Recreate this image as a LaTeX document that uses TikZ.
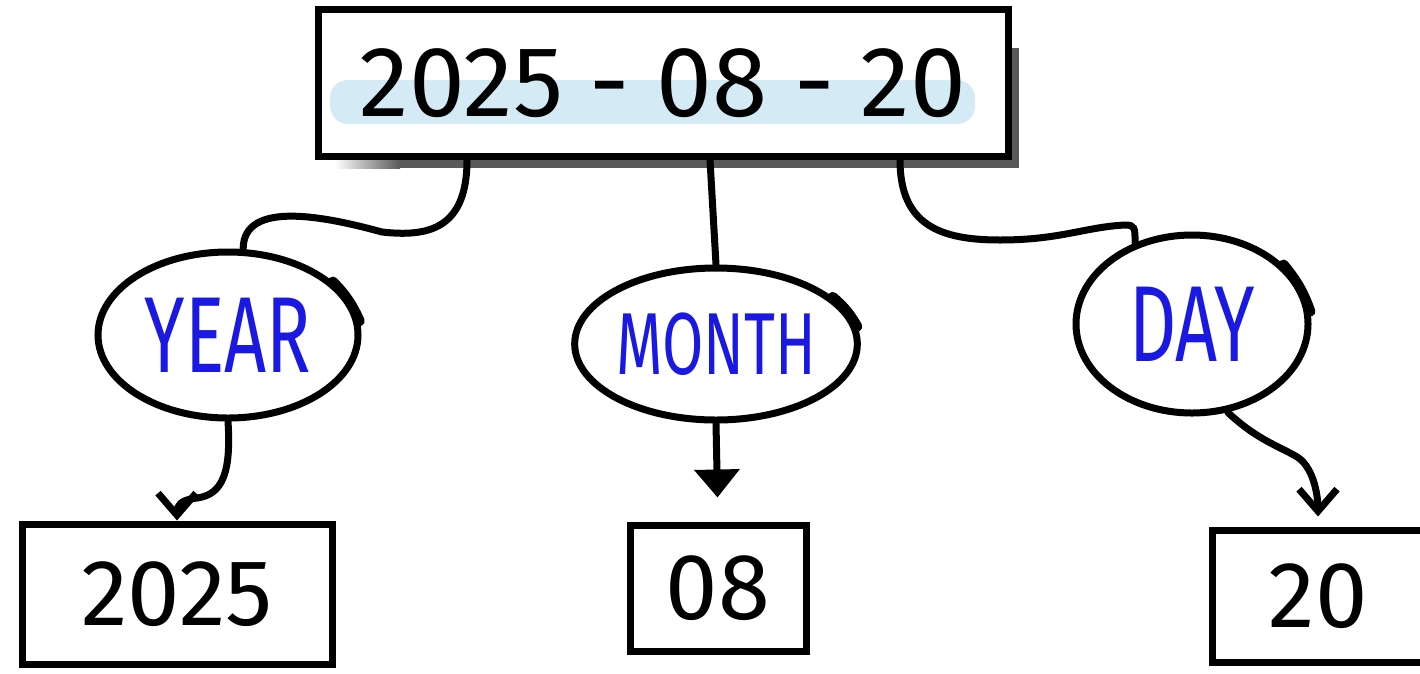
\documentclass[tikz,border=0pt]{standalone}
\usepackage{fontspec}
\setmainfont{Fira Sans}
\usetikzlibrary{arrows.meta,shapes.geometric}
\definecolor{ink}{RGB}{25,25,225}
\definecolor{marker}{RGB}{212,234,244}
\newcommand{\hand}[1]{\scalebox{0.68}[1]{#1}}
\begin{document}
\begin{tikzpicture}[x=1pt,y=-1pt,line width=7pt,line cap=round,
  box/.style={draw,rectangle,line width=7pt,inner sep=0pt},
  oval/.style={draw,ellipse,inner sep=0pt,fill=white,text=ink,font=\fontsize{108}{108}\selectfont},
  big/.style={font=\fontsize{94}{94}\selectfont},
  barb/.style={-{Straight Barb[length=22pt,width=38pt,line width=7pt]}},
  head/.style={-{Triangle[length=28pt,width=44pt]}}]
  \useasboundingbox (0,0) rectangle (1420,673);
  \fill[black!65] (345,157) rectangle (1019,168);
  \fill[black!65] (1008,48) rectangle (1019,168);
  \shade[left color=white,right color=black!65] (335,157) rectangle (400,168);
  \fill[marker,rounded corners=18pt] (330,80) rectangle (975,124);
  \node[box,minimum width=690pt,minimum height=147pt,font=\fontsize{100}{100}\selectfont]
    (date) at (663,83) {2025 - 08 - 20};

  \node[oval,minimum width=260pt,minimum height=166pt] (year) at (228,335) {\hand{YEAR}};
  \node[oval,minimum width=262pt,minimum height=152pt,font=\fontsize{88}{88}\selectfont]
    (month) at (716,344) {\hand{MONTH}};
  \node[oval,minimum width=232pt,minimum height=178pt] (day) at (1192,324) {\hand{DAY}};
  \draw[line width=10pt] (year.6) to[bend right=10] (year.27);
  \draw[line width=10pt] (month.7) to[bend right=10] (month.22);
  \draw[line width=10pt] (day.6) to[bend right=10] (day.33);

  \node[box,big,minimum width=310pt,minimum height=140pt] (n2025) at (177,594) {2025};
  \node[box,big,minimum width=176pt,minimum height=126pt] (n08) at (718,588) {08};
  \node[box,big,minimum width=212pt,minimum height=132pt] (n20) at (1318,596) {20};

  \draw ([xshift=-196pt]date.south) .. controls +(0,70) and +(45,5) .. ++(-85,72)
    .. controls +(-55,-15) and +(0,-50) .. (year.80);
  \draw ([xshift=47pt]date.south) -- (month.north);
  \draw ([xshift=237pt]date.south) .. controls +(0,65) and +(-60,0) .. ++(100,80)
    .. controls +(60,0) and +(-40,2) .. ++(125,-15)
    .. controls +(10,0) and +(0,-15) .. (day.125);

  \draw[barb] (year.south) .. controls +(4,60) and +(25,-2) .. ++(-35,77)
    .. controls +(-12,2) and +(0,-15) .. (n2025.north);
  \draw[head,shorten >=24pt] (month.south) -- (n08.north);
  \draw[barb,shorten >=10pt] (day.-68) .. controls +(30,28) and +(-20,-12) .. ++(70,45)
    .. controls +(18,12) and +(0,-25) .. (n20.north);
\end{tikzpicture}
\end{document}
